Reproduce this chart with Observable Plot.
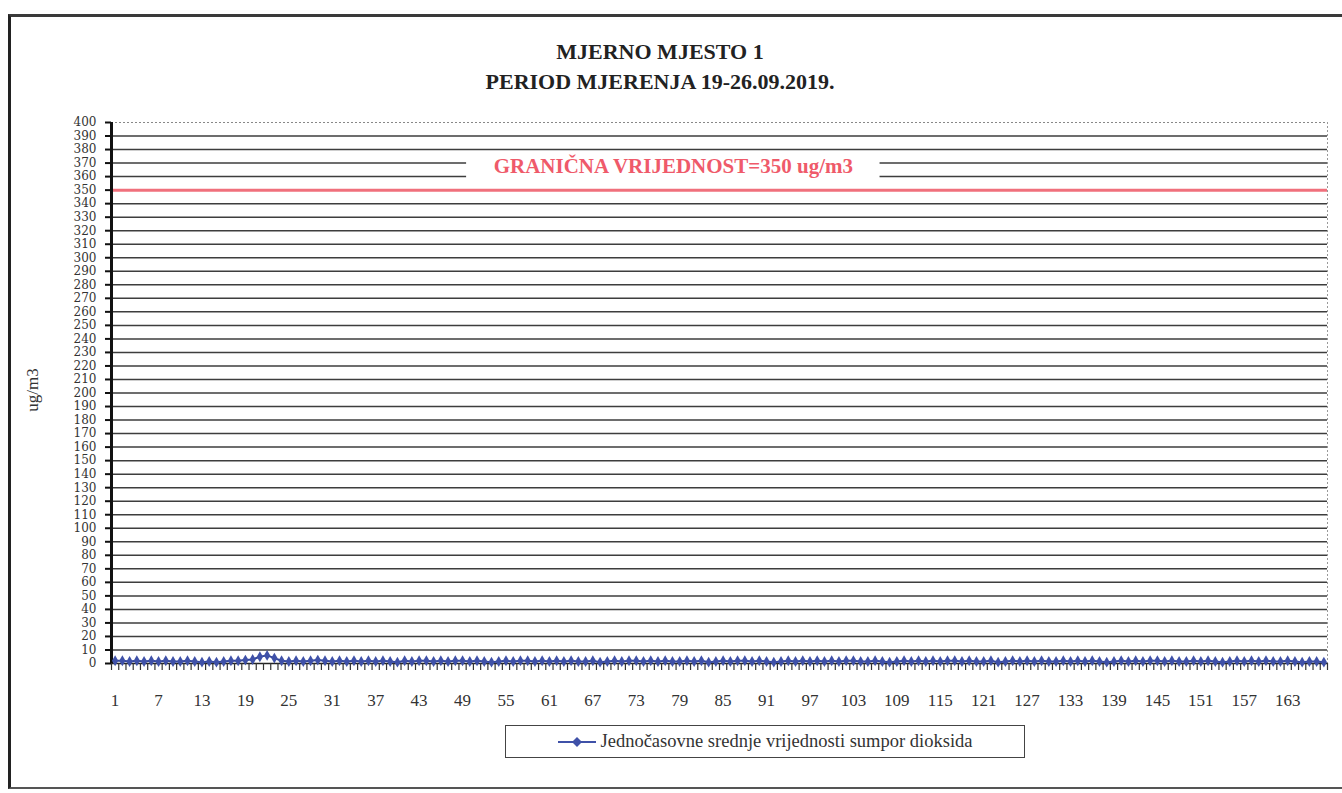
<!DOCTYPE html>
<html><head><meta charset="utf-8">
<script src="https://cdn.jsdelivr.net/npm/d3@7"></script>
<script src="https://cdn.jsdelivr.net/npm/@observablehq/plot@0.6"></script>
<style>
body{margin:0;background:#fff;width:1342px;height:793px;overflow:hidden;position:relative;font-family:"Liberation Serif",serif;color:#222;}
#frame{position:absolute;left:8px;top:14px;width:1345px;height:775px;border-top:3px solid #3a3a3a;border-left:3px solid #222;border-bottom:2px solid #555;box-sizing:border-box;}
.title{position:absolute;left:0;width:1320px;text-align:center;font-weight:bold;font-size:22px;line-height:24px;}
#chart{position:absolute;left:0;top:100px;}
#ytitle{position:absolute;left:33px;top:390px;transform:translate(-50%,-50%) rotate(-90deg);font-size:17px;white-space:nowrap;color:#333;}
#legend{position:absolute;left:505px;top:725px;width:520px;height:33px;border:1.5px solid #444;box-sizing:border-box;display:flex;align-items:center;justify-content:center;font-size:18.5px;color:#333;}
#legend svg{margin-right:5px;}
</style></head>
<body>
<div id="frame"></div>
<div class="title" style="top:40px">MJERNO MJESTO 1</div>
<div class="title" style="top:70px">PERIOD MJERENJA 19-26.09.2019.</div>
<div id="chart"></div>
<div id="ytitle"></div>
<div id="legend"><svg width="38" height="12"><line x1="0" y1="6" x2="38" y2="6" stroke="#3f51a8" stroke-width="2"/><path d="M19,1 L24,6 L19,11 L14,6 Z" fill="#3f51a8"/></svg><span id="legtext"></span></div>
<script>
const hours = d3.range(1, 169);
const so2 = [
  2,2,1.5,2,1.5,2,1.5,2,1.5,1.5,2,1.5,
  1,1.5,1,1.5,2,2,2.5,3,5,6,4,2,
  1.5,2,1.5,2,2.5,2,1.5,2,1.5,2,1.5,2,
  1.5,2,1.5,1,2,1.5,2,2,1.5,2,1.5,2,
  2,1.5,2,1.5,1,1.5,2,1.5,2,2,1.5,2,
  1.5,2,1.5,2,1.5,1.5,2,1,1.5,2,1.5,2,
  2,1.5,2,1.5,2,1.5,1.5,2,1.5,2,1,1.5,
  2,1.5,2,2,1.5,2,1.5,1,1.5,2,1.5,2,
  1.5,2,1.5,2,1.5,2,2,1.5,1.5,2,1.5,1,
  1.5,2,1.5,2,1.5,2,1.5,2,2,1.5,2,1.5,
  1.5,2,1,1.5,2,1.5,2,1.5,2,1.5,1.5,2,
  1.5,2,1.5,2,1.5,1,1.5,2,1.5,2,1.5,2,
  2,1.5,2,1.5,1.5,2,1.5,2,1.5,1,1.5,2,
  1.5,2,1.5,2,1.5,1.5,2,1.5,1,1.5,1.5,1
];
const yTicks = d3.range(0, 401, 10);
const xLabelTicks = [1,7,13,19,25,31,37,43,49,55,61,67,73,79,85,91,97,103,109,115,121,127,133,139,145,151,157,163];
const limitValue = 350;
const limitLabel = "GRANIČNA VRIJEDNOST=350 ug/m3";
const seriesName = "Jednočasovne srednje vrijednosti sumpor dioksida";
const yTitle = "ug/m3";

const data = hours.map((h, i) => ({h, v: so2[i]}));
const boundaries = d3.range(0.5, hours.length + 1, 1);
const n = hours.length;

const chart = Plot.plot({
  width: 1342, height: 620,
  marginLeft: 111, marginRight: 15, marginTop: 22, marginBottom: 57,
  x: {domain: [0.5, n + 0.5]},
  y: {domain: [0, 400]},
  style: {fontFamily: "Liberation Serif", background: "transparent", color: "#333"},
  marks: [
    Plot.ruleY(yTicks.filter(d => d > 0 && d < 400), {stroke: "#3d3d3d", strokeWidth: 1.5}),
    Plot.ruleY([400], {stroke: "#888", strokeDasharray: "2,2"}),
    Plot.ruleX([n + 0.5], {stroke: "#999", strokeDasharray: "2,2"}),
    Plot.rect([limitLabel], {x1: n * 0.295, x2: n * 0.635, y1: limitValue + 7, y2: limitValue + 26, fill: "white"}),
    Plot.text([limitLabel], {x: n * 0.465, y: limitValue + 18, text: d => d, fill: "#ef5a6a", fontWeight: "bold", fontSize: 21}),
    Plot.ruleY([limitValue], {stroke: "#f0707c", strokeWidth: 3}),
    Plot.ruleY([0], {stroke: "#222", strokeWidth: 1.5}),
    Plot.axisX(boundaries, {tickSize: 7, tickFormat: () => "", stroke: "#333", strokeWidth: 1.2, label: null}),
    Plot.axisX(xLabelTicks, {tickSize: 0, tickPadding: 30, fontSize: 17, label: null, fill: "#333"}),
    Plot.axisY(yTicks, {tickSize: 6, tickPadding: 9, fontSize: 12, fontFamily: "DejaVu Serif", strokeWidth: 2, stroke: "#111", fill: "#333", label: null}),
    Plot.ruleX([0.5], {stroke: "#111", strokeWidth: 3}),
    Plot.line(data, {x: "h", y: "v", stroke: "#34479a", strokeWidth: 2}),
    Plot.dot(data, {x: "h", y: "v", symbol: "diamond", r: 3.3, fill: "#3f51a8"})
  ]
});
document.getElementById("chart").append(chart);
document.getElementById("legtext").textContent = seriesName;
document.getElementById("ytitle").textContent = yTitle;
</script>
</body></html>
